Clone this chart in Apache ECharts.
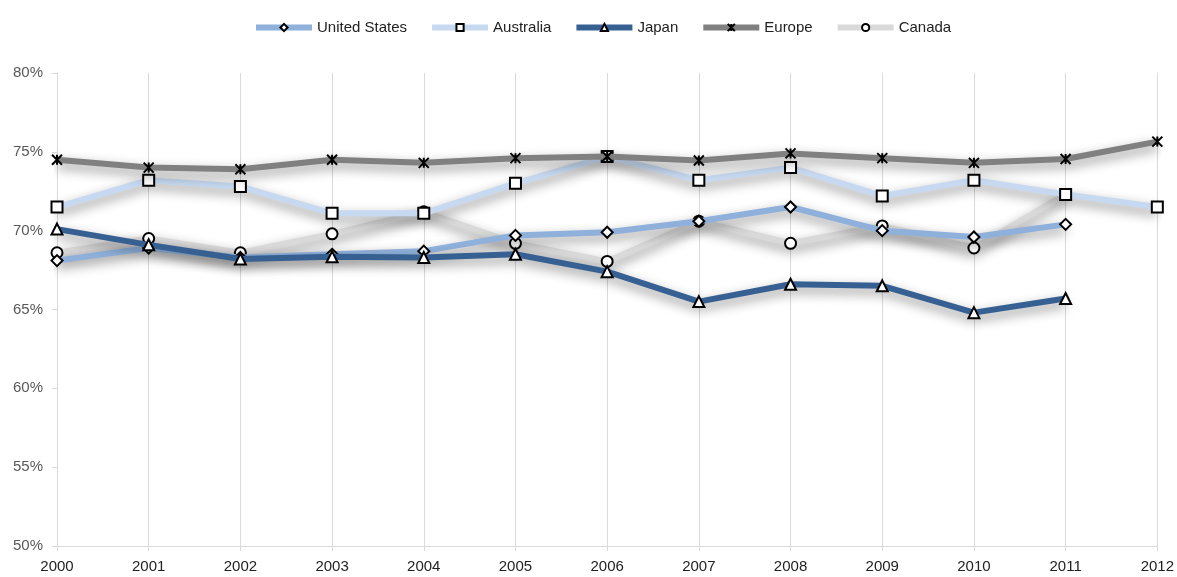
<!DOCTYPE html>
<html><head><meta charset="utf-8">
<script src="https://cdn.jsdelivr.net/npm/echarts@6/dist/echarts.min.js"></script>
<style>html,body{margin:0;padding:0;background:#fff}#c{width:1177px;height:577px}</style>
</head><body><div id="c"></div>
<script>
const years = ['2000','2001','2002','2003','2004','2005','2006','2007','2008','2009','2010','2011','2012'];
const unitedStates = [68.1, 68.9, 68.3, 68.5, 68.7, 69.7, 69.9, 70.6, 71.5, 70.0, 69.6, 70.4, null];
const australia    = [71.5, 73.2, 72.8, 71.1, 71.1, 73.0, 74.7, 73.2, 74.0, 72.2, 73.2, 72.3, 71.5];
const japan        = [70.1, 69.1, 68.2, 68.35, 68.3, 68.5, 67.4, 65.5, 66.6, 66.5, 64.8, 65.7, null];
const europe       = [74.5, 74.0, 73.9, 74.5, 74.3, 74.6, 74.7, 74.45, 74.9, 74.6, 74.3, 74.55, 75.65];
const canada       = [68.6, 69.5, 68.6, 69.8, 71.2, 69.2, 68.05, 70.6, 69.2, 70.3, 68.9, 72.3, null];

const FONT = '"Liberation Sans Narrow", "Liberation Sans", Arial, sans-serif';
const star = 'path://M0,0 L10,10 M10,0 L0,10 M5,0 L5,10';
function mk(name, data, color, symbol, width, z, symFill) {
  return {
    name, type: 'line', data, z,
    symbol, symbolSize: symbol === star ? 10 : 11,
    showAllSymbol: true, connectNulls: false,
    lineStyle: { color, width, shadowBlur: 12, shadowColor: 'rgba(0,0,0,0.45)', shadowOffsetY: 5 },
    itemStyle: { color: symFill || '#fff', borderColor: '#000', borderWidth: 2 },
    emphasis: { disabled: true }
  };
}
const chart = echarts.init(document.getElementById('c'));
chart.setOption({
  animation: false,
  legend: {
    top: 15, left: 248, itemWidth: 56, itemHeight: 9, itemGap: 22,
    lineStyle: { width: 6 },
    textStyle: { fontFamily: FONT, fontSize: 15, color: '#222' },
    data: ['United States', 'Australia', 'Japan', 'Europe', 'Canada']
  },
  grid: { left: 57, right: 19, top: 73, bottom: 31 },
  xAxis: {
    type: 'category', data: years, boundaryGap: false,
    axisLine: { lineStyle: { color: '#d9d9d9', width: 1 } },
    axisTick: { show: true, length: 5, lineStyle: { color: '#d9d9d9' } },
    axisLabel: { fontFamily: FONT, fontSize: 15, color: '#222', margin: 13 },
    splitLine: { show: true, lineStyle: { color: '#d9d9d9', width: 1 } }
  },
  yAxis: {
    type: 'value', min: 50, max: 80, interval: 5,
    axisLine: { show: true, lineStyle: { color: '#d9d9d9' } },
    axisTick: { show: true, length: 5, lineStyle: { color: '#d9d9d9' } },
    axisLabel: { fontFamily: FONT, fontSize: 15, color: '#595959', formatter: v => v + '%', margin: 14 },
    splitLine: { show: false }
  },
  series: [
    mk('Canada', canada, '#d9d9d9', 'circle', 6, 2),
    mk('United States', unitedStates, '#8eb0da', 'diamond', 6, 3),
    mk('Australia', australia, '#c6d9f0', 'rect', 6, 4),
    mk('Japan', japan, '#376092', 'triangle', 6, 5),
    mk('Europe', europe, '#808080', star, 6, 6, '#000')
  ]
});
</script></body></html>
